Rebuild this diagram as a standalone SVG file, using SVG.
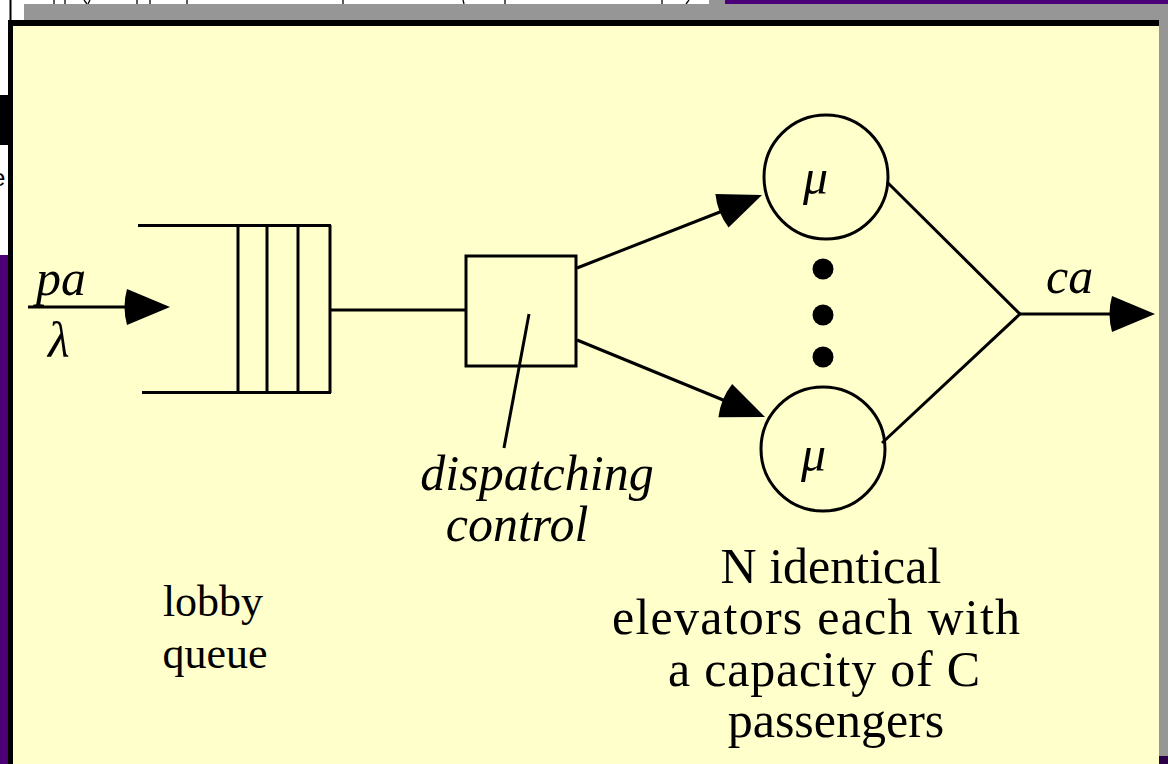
<svg xmlns="http://www.w3.org/2000/svg" width="1168" height="764" viewBox="0 0 1168 764">
  <style>
    .ln { stroke: #000; stroke-width: 3; fill: none; stroke-linecap: butt; }
    .head { fill: #000; stroke: none; }
    .t { font-family: "Liberation Serif", "Times New Roman", serif; font-size: 50px; fill: #000; }
    .sm { font-size: 44px; }
    .it { font-style: italic; }
    .mid { text-anchor: middle; }
  </style>
  <defs>
    <!-- filled arrowhead with a slightly rounded back, pointing along +x, tip at origin -->
    <path id="arrowhead" d="M0,0 L-43,-18 Q-48,0 -43,18 Z"/>
  </defs>

  <!-- surrounding window backdrop -->
  <g id="backdrop">
    <rect x="0" y="0" width="1168" height="764" fill="#ffffff"/>
    <rect x="725" y="0" width="443" height="5" fill="#4b0078"/>
    <rect x="709" y="0" width="16" height="5" fill="#969696"/>
    <rect x="0" y="255" width="9" height="509" fill="#4b0078"/>
    <rect x="0" y="95" width="9" height="50" fill="#000000"/>
    <text x="-8" y="186" font-family="Liberation Sans, Arial, sans-serif" font-size="24" fill="#000">e</text>
    <rect x="1159" y="756" width="9" height="8" fill="#2c0046"/>
    <!-- clipped glyph stubs along the top edge -->
    <g stroke="#000" stroke-width="1.3">
      <line x1="10.5" y1="0" x2="10.5" y2="20" stroke-width="2"/>
      <line x1="54" y1="0" x2="54" y2="4"/>
      <line x1="65" y1="0" x2="65" y2="4"/>
      <line x1="84" y1="0" x2="87" y2="4"/>
      <line x1="90" y1="0" x2="88" y2="4"/>
      <line x1="137" y1="0" x2="137" y2="4"/>
      <line x1="150" y1="0" x2="150" y2="4"/>
      <line x1="187" y1="0" x2="187" y2="4"/>
      <line x1="343" y1="0" x2="343" y2="4"/>
      <line x1="463" y1="0" x2="464" y2="4"/>
      <line x1="505" y1="0" x2="505" y2="4"/>
      <line x1="662" y1="0" x2="662" y2="4"/>
      <line x1="689" y1="0" x2="686" y2="4"/>
    </g>
  </g>

  <!-- panel with shadow and frame -->
  <g id="panel">
    <rect x="24" y="4" width="1144" height="16" fill="#969696"/>
    <rect x="1159" y="4" width="9" height="752" fill="#969696"/>
    <rect x="8" y="20" width="1151" height="744" fill="#ffffcc"/>
    <rect x="8" y="20" width="1151" height="6" fill="#000"/>
    <rect x="8" y="20" width="5" height="744" fill="#000"/>
  </g>

  <!-- connectors -->
  <g id="connectors">
    <line class="ln" x1="28" y1="307" x2="130" y2="307"/>
    <use href="#arrowhead" class="head" transform="translate(170,307)"/>
    <line class="ln" x1="330" y1="310" x2="466" y2="310"/>
    <line class="ln" x1="577" y1="268" x2="725" y2="210"/>
    <use href="#arrowhead" class="head" transform="translate(762,195) rotate(-21.5)"/>
    <line class="ln" x1="577" y1="340" x2="728" y2="402"/>
    <use href="#arrowhead" class="head" transform="translate(765,417) rotate(22.5)"/>
    <line class="ln" x1="887" y1="182" x2="1020" y2="314"/>
    <line class="ln" x1="882" y1="443" x2="1020" y2="314"/>
    <line class="ln" x1="1020" y1="314" x2="1115" y2="314"/>
    <use href="#arrowhead" class="head" transform="translate(1155,314)"/>
    <line class="ln" x1="529" y1="314" x2="504" y2="448"/>
  </g>

  <!-- lobby queue -->
  <g id="queue">
    <line class="ln" x1="138" y1="225.5" x2="331" y2="225.5"/>
    <line class="ln" x1="142" y1="392.5" x2="331" y2="392.5"/>
    <line class="ln" x1="238" y1="225" x2="238" y2="393"/>
    <line class="ln" x1="267" y1="225" x2="267" y2="393"/>
    <line class="ln" x1="298" y1="225" x2="298" y2="393"/>
    <line class="ln" x1="330" y1="225" x2="330" y2="393"/>
  </g>

  <!-- dispatcher -->
  <g id="dispatcher">
    <rect class="ln" x="466" y="256" width="110" height="110"/>
  </g>

  <!-- elevators -->
  <g id="elevator-top">
    <circle class="ln" cx="826" cy="177" r="62"/>
    <text class="t it" x="803" y="194" font-size="54">μ</text>
  </g>
  <g id="elevator-bottom">
    <circle class="ln" cx="823" cy="449" r="62"/>
    <text class="t it" x="801" y="471" font-size="54">μ</text>
  </g>
  <g id="ellipsis">
    <circle cx="823" cy="269" r="10.5"/>
    <circle cx="823" cy="315" r="10.5"/>
    <circle cx="823" cy="357" r="10.5"/>
  </g>

  <!-- labels -->
  <g id="labels">
    <text class="t it" x="36" y="295">pa</text>
    <text class="t it" x="48" y="357">λ</text>
    <text class="t it" x="1046" y="293">ca</text>
    <text class="t it mid" x="537" y="490">dispatching</text>
    <text class="t it mid" x="517" y="541">control</text>
    <text class="t sm mid" x="213" y="616">lobby</text>
    <text class="t sm mid" x="215" y="668">queue</text>
    <text class="t mid" x="831" y="583">N identical</text>
    <text class="t" x="612" y="634" textLength="408" lengthAdjust="spacing">elevators each with</text>
    <text class="t" x="668" y="686" textLength="312" lengthAdjust="spacing">a capacity of C</text>
    <text class="t mid" x="836" y="737">passengers</text>
  </g>
</svg>
